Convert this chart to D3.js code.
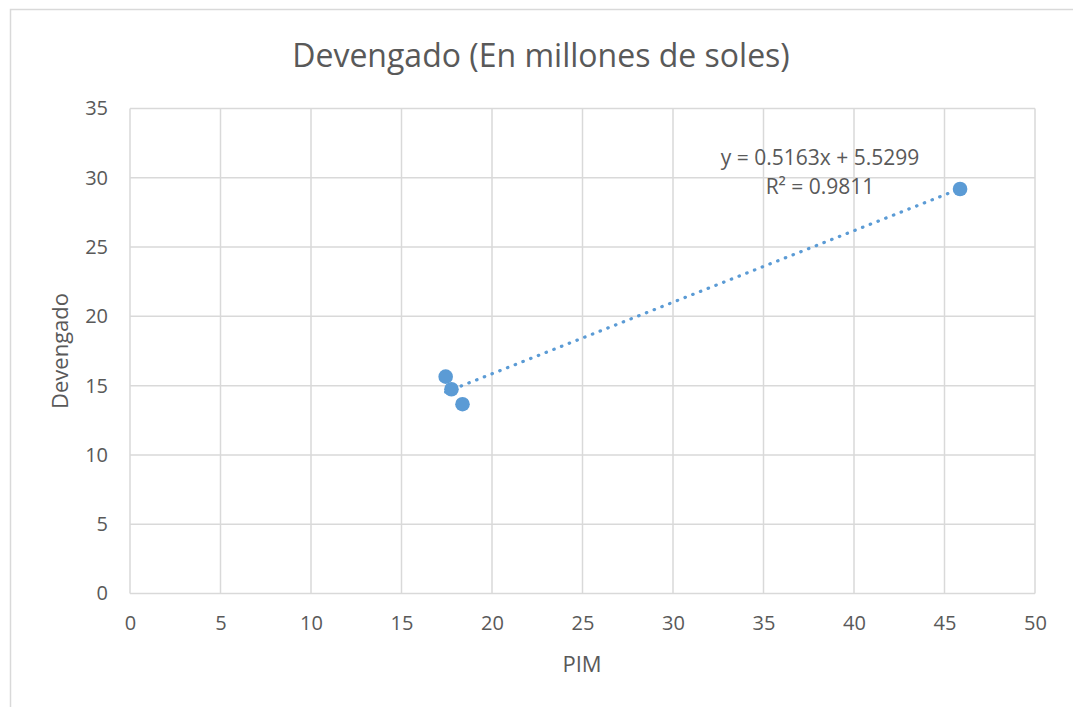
<!DOCTYPE html>
<html>
<head>
<meta charset="utf-8">
<script src="https://cdn.jsdelivr.net/npm/d3@7"></script>
<style>
  html, body { margin: 0; padding: 0; background: #fff; }
  #chart { width: 1073px; height: 707px; }
  text { font-family: "Open Sans", sans-serif; fill: #595959; }
</style>
</head>
<body>
<div id="chart"></div>
<script>
// values
const pimValues = [17.44, 17.76, 18.37, 45.86];
const devengadoValues = [15.65, 14.74, 13.66, 29.19];
const xTicks = [0, 5, 10, 15, 20, 25, 30, 35, 40, 45, 50];
const yTicks = [0, 5, 10, 15, 20, 25, 30, 35];
const trendSlope = 0.5163;
const trendIntercept = 5.5299;
const trendLabels = ["y = 0.5163x + 5.5299", "R² = 0.9811"];
const chartTitle = "Devengado (En millones de soles)";

function renderScatter() {
  const width = 1073, height = 707;
  const plot = { left: 130, top: 108.5, right: 1035, bottom: 593.5 };
  const blue = "#5b9bd5";
  const grid = "#d9d9d9";

  const svg = d3.select("#chart").append("svg")
    .attr("width", width).attr("height", height);

  svg.append("rect").attr("width", width).attr("height", height).attr("fill", "#fff");

  // chart area border (right and bottom edges run off the picture)
  svg.append("rect")
    .attr("x", 10.5).attr("y", 9.5)
    .attr("width", width + 20).attr("height", height + 20)
    .attr("fill", "none").attr("stroke", grid).attr("stroke-width", 1.5);

  const x = d3.scaleLinear().domain([0, 50]).range([plot.left, plot.right]);
  const y = d3.scaleLinear().domain([0, 35]).range([plot.bottom, plot.top]);

  // gridlines
  svg.append("g").selectAll("line.vx")
    .data(xTicks).enter().append("line")
    .attr("x1", d => x(d)).attr("x2", d => x(d))
    .attr("y1", plot.top).attr("y2", plot.bottom)
    .attr("stroke", grid).attr("stroke-width", 1.5);

  svg.append("g").selectAll("line.hy")
    .data(yTicks).enter().append("line")
    .attr("x1", plot.left).attr("x2", plot.right)
    .attr("y1", d => y(d)).attr("y2", d => y(d))
    .attr("stroke", grid).attr("stroke-width", 1.5);

  // tick labels through d3 axes, lines hidden
  const xAxis = svg.append("g")
    .attr("transform", `translate(0,${plot.bottom})`)
    .call(d3.axisBottom(x).tickValues(xTicks).tickSize(0).tickPadding(22));
  const yAxis = svg.append("g")
    .attr("transform", `translate(${plot.left},0)`)
    .call(d3.axisLeft(y).tickValues(yTicks).tickSize(0).tickPadding(22));

  [xAxis, yAxis].forEach(a => {
    a.select(".domain").remove();
    a.selectAll("text")
      .attr("font-family", "Open Sans, sans-serif")
      .attr("font-size", 20)
      .attr("fill", "#595959");
  });

  // trendline
  const xs = d3.extent(pimValues);
  svg.append("line")
    .attr("x1", x(xs[0])).attr("y1", y(trendSlope * xs[0] + trendIntercept))
    .attr("x2", x(xs[1])).attr("y2", y(trendSlope * xs[1] + trendIntercept))
    .attr("stroke", blue).attr("stroke-width", 3.2)
    .attr("stroke-linecap", "round")
    .attr("stroke-dasharray", "0.5 7.8");

  // points
  svg.append("g").selectAll("circle")
    .data(pimValues.map((v, i) => ({ x: v, y: devengadoValues[i] })))
    .enter().append("circle")
    .attr("cx", d => x(d.x)).attr("cy", d => y(d.y))
    .attr("r", 7.3)
    .attr("fill", blue);

  // trendline label
  svg.append("g").selectAll("text")
    .data(trendLabels).enter().append("text")
    .attr("x", 820).attr("y", (d, i) => 165 + i * 29)
    .attr("text-anchor", "middle")
    .attr("font-size", 21)
    .text(d => d);

  // title
  svg.append("text")
    .attr("x", 541).attr("y", 67)
    .attr("text-anchor", "middle")
    .attr("font-size", 32)
    .text(chartTitle);

  // axis titles
  svg.append("text")
    .attr("x", 582).attr("y", 672)
    .attr("text-anchor", "middle")
    .attr("font-size", 22)
    .text("PIM");

  svg.append("text")
    .attr("transform", `translate(68,${(plot.top + plot.bottom) / 2}) rotate(-90)`)
    .attr("text-anchor", "middle")
    .attr("font-size", 22)
    .text("Devengado");
}

renderScatter();
</script>
</body>
</html>
